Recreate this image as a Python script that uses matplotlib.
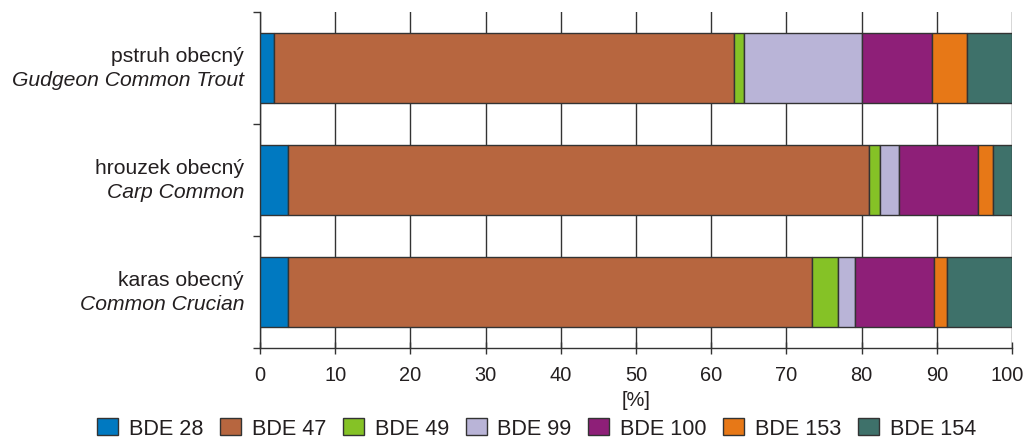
import matplotlib
matplotlib.use("Agg")
import matplotlib.pyplot as plt
import matplotlib.transforms as mtransforms
import numpy as np

plt.rcParams['font.family'] = ['Liberation Sans', 'DejaVu Sans']

# Fish species: Czech name and English name
names_cz = ["pstruh obecný", "hrouzek obecný", "karas obecný"]
names_en = ["Gudgeon Common Trout", "Carp Common", "Common Crucian"]

# Congener shares [%] per species (same order as the names)
series = ["BDE 28", "BDE 47", "BDE 49", "BDE 99", "BDE 100", "BDE 153", "BDE 154"]
bde28 = [1.9, 3.7, 3.7]
bde47 = [61.1, 77.3, 69.7]
bde49 = [1.4, 1.5, 3.4]
bde99 = [15.7, 2.5, 2.3]
bde100 = [9.3, 10.5, 10.5]
bde153 = [4.6, 2.0, 1.7]
bde154 = [6.0, 2.5, 8.7]

colors = ["#0079c1", "#b7663f", "#85c226", "#b9b4d7", "#8e1f78", "#e77817", "#3e716a"]
text_color = "#231f20"
edge_color = "#333333"

values = [bde28, bde47, bde49, bde99, bde100, bde153, bde154]

fig = plt.figure(figsize=(10.26, 4.40), dpi=100)
ax = fig.add_axes([260 / 1026, 1 - 348 / 440, 752 / 1026, 336 / 440])

y = np.arange(len(names_cz))
left = np.zeros(len(names_cz))
for name, vals, col in zip(series, values, colors):
    vals = np.asarray(vals)
    ax.barh(y, vals, left=left, height=0.63, color=col, edgecolor=edge_color,
            linewidth=1.0, label=name, zorder=3)
    left += vals

ax.set_xlim(0, 100)
ax.set_ylim(len(names_cz) - 0.5, -0.5)
ax.set_xticks(np.arange(0, 101, 10))
ax.tick_params(axis='x', direction='inout', length=8, width=1, color=edge_color,
               labelsize=14.4, labelcolor=text_color, pad=9)
ax.grid(axis='x', color=edge_color, linewidth=1.0, zorder=0)

# y ticks at category boundaries, labels drawn separately
ax.set_yticks([])
ax.set_yticks(np.arange(-0.5, len(names_cz), 1.0), minor=True)
ax.tick_params(axis='y', which='minor', direction='out', length=5, width=1, color=edge_color)
ax.tick_params(axis='y', which='major', length=0)

# nudge the last x tick label so it stays inside the figure
last = ax.xaxis.get_major_ticks()[-1].label1
last.set_transform(last.get_transform() +
                   mtransforms.ScaledTranslation(-5 / 100, 0, fig.dpi_scale_trans))

for sp in ['top', 'right']:
    ax.spines[sp].set_visible(False)
for sp in ['left', 'bottom']:
    ax.spines[sp].set_color(edge_color)
    ax.spines[sp].set_linewidth(1.0)

for yi, cz, en in zip(y, names_cz, names_en):
    ax.annotate(cz, xy=(0, yi), xycoords=('axes fraction', 'data'),
                xytext=(-16, 6), textcoords='offset pixels', ha='right', va='baseline',
                fontsize=15.2, color=text_color)
    ax.annotate(en, xy=(0, yi), xycoords=('axes fraction', 'data'),
                xytext=(-16, -18), textcoords='offset pixels', ha='right', va='baseline',
                fontsize=15.2, style='italic', color=text_color)

ax.set_xlabel("[%]", fontsize=14.4, color=text_color, labelpad=4)

fig.legend(loc='center', bbox_to_anchor=(0.523, 1 - 429 / 440), ncol=7, frameon=False,
           fontsize=15.6, handlelength=0.97, handleheight=0.83, handletextpad=0.5,
           columnspacing=0.77, labelcolor=text_color, borderaxespad=0, borderpad=0)

fig.savefig("out.png", dpi=100)
